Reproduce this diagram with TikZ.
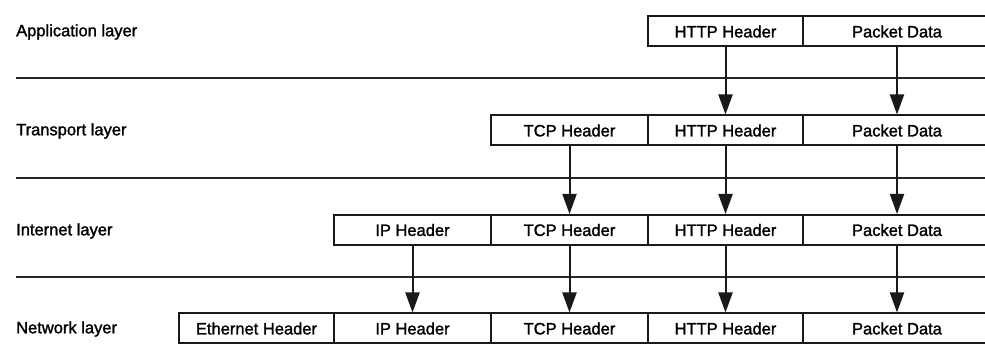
\documentclass[tikz,border=0pt]{standalone}
\usepackage{fontspec}
\setmainfont{Liberation Sans}
\newfontfamily\heavyfont{Liberation Sans}[UprightFeatures={FakeBold=1.5}]
\usetikzlibrary{arrows.meta}
\begin{document}
\begin{tikzpicture}[x=1pt,y=-1pt,
  cell/.style={draw=black!90, line width=2pt, minimum height=30pt, inner sep=0pt, anchor=center,
    font=\heavyfont\fontsize{16.5}{18}\selectfont},
  lbl/.style={anchor=west, inner sep=0pt, font=\heavyfont\fontsize{16.5}{18}\selectfont},
  sep/.style={draw=black!85, line width=2pt},
  arr/.style={draw=black!90, line width=2pt, -{Triangle[length=20pt,width=14pt]}}]
\path[use as bounding box] (0,0) rectangle (985,344);
% widths
\def\wE{155}\def\wI{157}\def\wT{157}\def\wH{155}\def\wP{188}
% separator lines
\draw[sep] (16,78) -- (985,78);
\draw[sep] (16,178) -- (985,178);
\draw[sep] (16,277) -- (985,277);
% labels
\node[lbl] (la) at (16,32) {Application layer};
\node[lbl] (lt) at (16,131) {Transport layer};
\node[lbl] (li) at (16,231) {Internet layer};
\node[lbl] (ln) at (16,329) {Network layer};
% application row
\node[cell, minimum width=\wH] (a1) at (725.5,31.5) {HTTP Header};
\node[cell, minimum width=\wP] (a2) at (897,31.5) {Packet Data};
% transport row
\node[cell, minimum width=\wT] (t1) at (569.5,130.5) {TCP Header};
\node[cell, minimum width=\wH] (t2) at (725.5,130.5) {HTTP Header};
\node[cell, minimum width=\wP] (t3) at (897,130.5) {Packet Data};
% internet row
\node[cell, minimum width=\wI] (i1) at (412.5,230) {IP Header};
\node[cell, minimum width=\wT] (i2) at (569.5,230) {TCP Header};
\node[cell, minimum width=\wH] (i3) at (725.5,230) {HTTP Header};
\node[cell, minimum width=\wP] (i4) at (897,230) {Packet Data};
% network row
\node[cell, minimum width=\wE] (n0) at (256.5,328.5) {Ethernet Header};
\node[cell, minimum width=\wI] (n1) at (412.5,328.5) {IP Header};
\node[cell, minimum width=\wT] (n2) at (569.5,328.5) {TCP Header};
\node[cell, minimum width=\wH] (n3) at (725.5,328.5) {HTTP Header};
\node[cell, minimum width=\wP] (n4) at (897,328.5) {Packet Data};
% arrows
\draw[arr] (a1.south) -- (t2.north);
\draw[arr] (a2.south) -- (t3.north);
\draw[arr] (t1.south) -- (i2.north);
\draw[arr] (t2.south) -- (i3.north);
\draw[arr] (t3.south) -- (i4.north);
\draw[arr] (i1.south) -- (n1.north);
\draw[arr] (i2.south) -- (n2.north);
\draw[arr] (i3.south) -- (n3.north);
\draw[arr] (i4.south) -- (n4.north);
\end{tikzpicture}
\end{document}
